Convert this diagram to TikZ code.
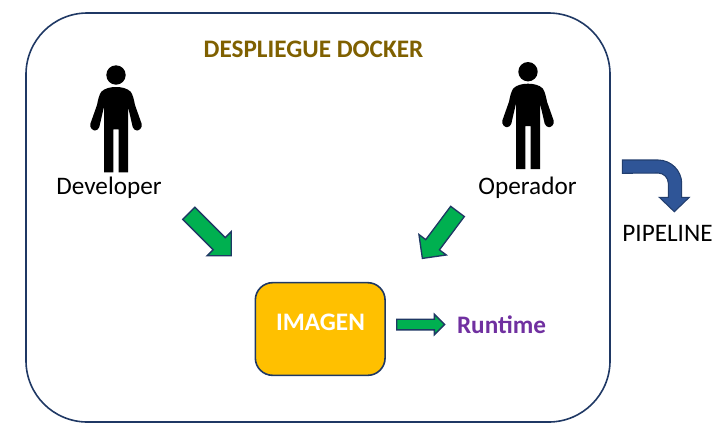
\documentclass[tikz,border=0pt]{standalone}
\usepackage{fontspec}
\setmainfont{Carlito}
\usetikzlibrary{shapes.arrows}
\definecolor{darkline}{HTML}{1F3864}
\definecolor{arrowgreen}{HTML}{00B050}
\definecolor{boxyellow}{HTML}{FFC000}
\definecolor{titlebrown}{HTML}{7F6000}
\definecolor{runpurple}{HTML}{7030A0}
\definecolor{pipeblue}{HTML}{2F5597}
\tikzset{
	label16/.style={font=\fontsize{18.9}{22}\selectfont, inner sep=0pt},
	labelbold/.style={font=\fontsize{18.9}{22}\selectfont\bfseries, inner sep=0pt},
	greenarrow/.style={single arrow, draw=darkline, fill=arrowgreen, line width=1pt,
		single arrow tip angle=90, single arrow head indent=0pt, inner xsep=0pt},
	person/.pic={
		\fill[black] (0,0) circle (9.7);
		\fill[black] (0,12) .. controls (5,12) and (11,13) .. (14.7,16.7)
			.. controls (17,20) and (18,25) .. (19,30)
			-- (25.7,49) .. controls (26.5,53) and (23,55.5) .. (21,55.5)
			.. controls (19,55.5) and (17.5,54) .. (16.7,52)
			-- (12,31.7) -- (12,97.3) -- (2.7,97.3) -- (2.7,54.3)
			-- (-2.7,54.3) -- (-2.7,97.3) -- (-12,97.3) -- (-12,31.7)
			-- (-16.7,52) .. controls (-17.5,54) and (-19,55.5) .. (-21,55.5)
			.. controls (-23,55.5) and (-26.5,53) .. (-25.7,49)
			-- (-19,30) .. controls (-18,25) and (-17,20) .. (-14.7,16.7)
			.. controls (-11,13) and (-5,12) .. (0,12) -- cycle;
	}
}
\begin{document}
\begin{tikzpicture}[x=0.75pt,y=-0.75pt]
\useasboundingbox (0,0) rectangle (723,447);

\node[draw=darkline, line width=1.2pt, rounded corners=46pt, minimum width=438pt, minimum height=306.75pt] (frame) at (318,217.5) {};
\node[labelbold, text=titlebrown] (title) at (313.5,49) {DESPLIEGUE DOCKER};

\pic (developer) at (116,75) {person};
\pic (operador) at (528,71.7) {person};
\node[label16] (devlabel) at (109,188) {Developer};
\node[label16] (oplabel) at (527.5,188) {Operador};

\node[greenarrow, rotate=-45, minimum height=45pt, inner ysep=5.9pt, single arrow head extend=6.4pt] (devarrow) at (207,231.5) {};
\node[greenarrow, rotate=233.2, minimum height=44pt, inner ysep=5.9pt, single arrow head extend=6.4pt] (oparrow) at (442.5,231.5) {};

\node[draw=darkline, fill=boxyellow, line width=1.2pt, rounded corners=13pt, minimum width=97.3pt, minimum height=69.5pt] (imagen) at (320.2,329) {};
\node[labelbold, text=white] (imagentext) at (320.5,322) {IMAGEN};

\node[greenarrow, minimum height=36pt, inner ysep=3.5pt, single arrow head extend=3.7pt] (runarrow) at (418,324.5) {};
\node[labelbold, text=runpurple] (runtime) at (501.5,325) {Runtime};

% pipeline arrow
\draw[draw=darkline!80!pipeblue, fill=pipeblue, line width=0.8pt, line join=miter]
	(622.3,160) -- (658,160) arc[start angle=90, end angle=0, x radius=23.7, y radius=-23.7]
	-- (681.7,197.3) -- (689.3,197.3) -- (674.3,211.7) -- (659.3,197.3) -- (668.3,197.3)
	-- (668.3,183.3) arc[start angle=0, end angle=90, x radius=10.3, y radius=-10.3]
	-- (622.3,173.3) -- cycle;
\node[label16] (pipeline) at (667.5,233) {PIPELINE};
\end{tikzpicture}
\end{document}
